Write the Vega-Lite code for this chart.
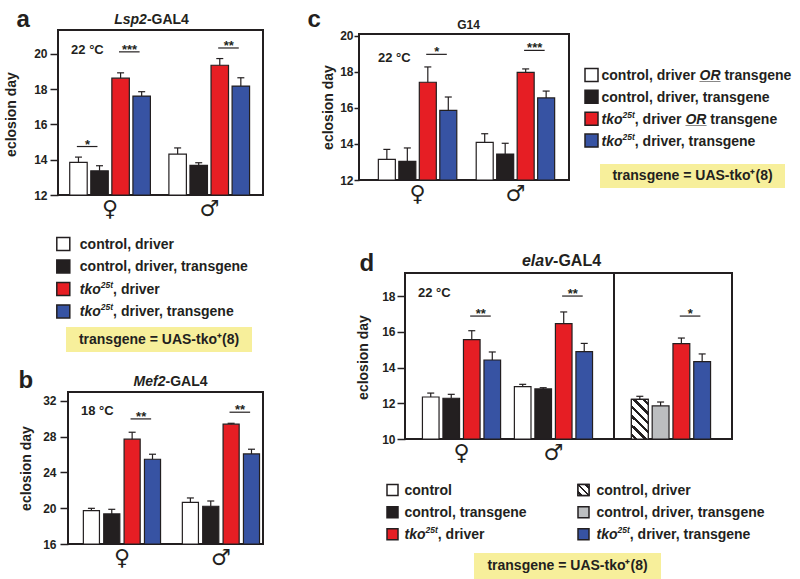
{
"$schema": "https://vega.github.io/schema/vega-lite/v6.json",
"padding": {"left": 2, "top": 5, "right": 4, "bottom": 0},
"config": {
  "font": "Liberation Sans",
  "view": {"stroke": null},
  "axis": {"grid": false, "domain": false, "labelColor": "#231f20", "titleColor": "#231f20", "tickColor": "#231f20", "labelFontWeight": "bold", "labelFont": "Liberation Sans", "titleFont": "Liberation Sans"},
  "text": {"color": "#231f20"}
},
"datasets": {
  "a_bars": [
    {"sex": "♀", "genotype": "control, driver", "day": 13.85, "upper": 14.15},
    {"sex": "♀", "genotype": "control, driver, transgene", "day": 13.37, "upper": 13.66},
    {"sex": "♀", "genotype": "tko25t, driver", "day": 18.63, "upper": 18.93},
    {"sex": "♀", "genotype": "tko25t, driver, transgene", "day": 17.61, "upper": 17.86},
    {"sex": "♂", "genotype": "control, driver", "day": 14.32, "upper": 14.67},
    {"sex": "♂", "genotype": "control, driver, transgene", "day": 13.68, "upper": 13.83},
    {"sex": "♂", "genotype": "tko25t, driver", "day": 19.36, "upper": 19.74},
    {"sex": "♂", "genotype": "tko25t, driver, transgene", "day": 18.18, "upper": 18.65}
  ],
  "a_sig": [
    {"sex": "♀", "genotype": "control, driver", "level": 14.75, "stars": "*"},
    {"sex": "♀", "genotype": "tko25t, driver", "level": 20.12, "stars": "***"},
    {"sex": "♂", "genotype": "tko25t, driver", "level": 20.34, "stars": "**"}
  ],
  "b_bars": [
    {"sex": "♀", "genotype": "control, driver", "day": 19.73, "upper": 19.99},
    {"sex": "♀", "genotype": "control, driver, transgene", "day": 19.36, "upper": 19.88},
    {"sex": "♀", "genotype": "tko25t, driver", "day": 27.72, "upper": 28.5},
    {"sex": "♀", "genotype": "tko25t, driver, transgene", "day": 25.48, "upper": 26.04},
    {"sex": "♂", "genotype": "control, driver", "day": 20.66, "upper": 21.15},
    {"sex": "♂", "genotype": "control, driver, transgene", "day": 20.22, "upper": 20.81},
    {"sex": "♂", "genotype": "tko25t, driver", "day": 29.4, "upper": 29.5},
    {"sex": "♂", "genotype": "tko25t, driver, transgene", "day": 26.07, "upper": 26.6}
  ],
  "b_sig": [
    {"sex": "♀", "genotype": "tko25t, driver", "level": 29.99, "stars": "**"},
    {"sex": "♂", "genotype": "tko25t, driver", "level": 30.74, "stars": "**"}
  ],
  "c_bars": [
    {"sex": "♀", "genotype": "control, driver OR transgene", "day": 13.15, "upper": 13.7},
    {"sex": "♀", "genotype": "control, driver, transgene", "day": 13.04, "upper": 13.78},
    {"sex": "♀", "genotype": "tko25t, driver OR transgene", "day": 17.43, "upper": 18.28},
    {"sex": "♀", "genotype": "tko25t, driver, transgene", "day": 15.87, "upper": 16.61},
    {"sex": "♂", "genotype": "control, driver OR transgene", "day": 14.09, "upper": 14.57},
    {"sex": "♂", "genotype": "control, driver, transgene", "day": 13.44, "upper": 14.04},
    {"sex": "♂", "genotype": "tko25t, driver OR transgene", "day": 17.98, "upper": 18.17},
    {"sex": "♂", "genotype": "tko25t, driver, transgene", "day": 16.56, "upper": 16.94}
  ],
  "c_sig": [
    {"sex": "♀", "genotype": "tko25t, driver OR transgene", "level": 18.98, "stars": "*"},
    {"sex": "♂", "genotype": "tko25t, driver OR transgene", "level": 19.2, "stars": "***"}
  ],
  "dl_bars": [
    {"sex": "♀", "genotype": "control", "day": 12.35, "upper": 12.57},
    {"sex": "♀", "genotype": "control, transgene", "day": 12.28, "upper": 12.5},
    {"sex": "♀", "genotype": "tko25t, driver", "day": 15.56, "upper": 16.06},
    {"sex": "♀", "genotype": "tko25t, driver, transgene", "day": 14.42, "upper": 14.87},
    {"sex": "♂", "genotype": "control", "day": 12.93, "upper": 13.06},
    {"sex": "♂", "genotype": "control, transgene", "day": 12.8, "upper": 12.87},
    {"sex": "♂", "genotype": "tko25t, driver", "day": 16.46, "upper": 17.11},
    {"sex": "♂", "genotype": "tko25t, driver, transgene", "day": 14.89, "upper": 15.35}
  ],
  "dl_sig": [
    {"sex": "♀", "genotype": "tko25t, driver", "level": 16.88, "stars": "**"},
    {"sex": "♂", "genotype": "tko25t, driver", "level": 18.0, "stars": "**"}
  ],
  "dr_bars": [
    {"sex": "♀", "genotype": "control, driver", "day": 12.22, "upper": 12.39},
    {"sex": "♀", "genotype": "control, driver, transgene", "day": 11.85, "upper": 12.07},
    {"sex": "♀", "genotype": "tko25t, driver", "day": 15.34, "upper": 15.65},
    {"sex": "♀", "genotype": "tko25t, driver, transgene", "day": 14.33, "upper": 14.76}
  ],
  "dr_sig": [
    {"sex": "♀", "genotype": "tko25t, driver", "level": 16.88, "stars": "*"}
  ],
  "legA": [
    {"genotype": "control, driver", "it": "", "sup": "", "p1": "control, driver"},
    {"genotype": "control, driver, transgene", "it": "", "sup": "", "p1": "control, driver, transgene"},
    {"genotype": "tko25t, driver", "it": "tko", "sup": "25t", "p1": ", driver"},
    {"genotype": "tko25t, driver, transgene", "it": "tko", "sup": "25t", "p1": ", driver, transgene"}
  ],
  "legC": [
    {"genotype": "control, driver OR transgene", "it": "", "sup": "", "p1": "control, driver", "em": "OR", "p2": "transgene"},
    {"genotype": "control, driver, transgene", "it": "", "sup": "", "p1": "control, driver, transgene", "em": "", "p2": ""},
    {"genotype": "tko25t, driver OR transgene", "it": "tko", "sup": "25t", "p1": ", driver", "em": "OR", "p2": "transgene"},
    {"genotype": "tko25t, driver, transgene", "it": "tko", "sup": "25t", "p1": ", driver, transgene", "em": "", "p2": ""}
  ],
  "legDL": [
    {"genotype": "control", "it": "", "sup": "", "p1": "control"},
    {"genotype": "control, transgene", "it": "", "sup": "", "p1": "control, transgene"},
    {"genotype": "tko25t, driver", "it": "tko", "sup": "25t", "p1": ", driver"}
  ],
  "legDR": [
    {"genotype": "control, driver", "it": "", "sup": "", "p1": "control, driver"},
    {"genotype": "control, driver, transgene", "it": "", "sup": "", "p1": "control, driver, transgene"},
    {"genotype": "tko25t, driver, transgene", "it": "tko", "sup": "25t", "p1": ", driver, transgene"}
  ]
},
"spacing": 41,
"resolve": {"scale": {"fill": "independent", "xOffset": "independent"}},
"hconcat": [
{
 "spacing": 0,
 "resolve": {"scale": {"fill": "independent", "xOffset": "independent"}},
 "vconcat": [
  {"width": 1, "height": 1, "data": {"values": []}, "mark": {"type": "point", "size": 0}},
  {"spacing": 0, "resolve": {"scale": {"fill": "independent", "xOffset": "independent"}},
   "hconcat": [
    {"width": 1, "height": 1, "data": {"values": []}, "mark": {"type": "point", "size": 0}},
    {
     "width": 205, "height": 165,
     "view": {"stroke": "#231f20", "strokeWidth": 2},
     "resolve": {"axis": {"x": "independent", "y": "independent"}},
     "layer": [
      {"data": {"name": "a_bars"},
       "mark": {"type": "bar", "stroke": "#231f20", "strokeWidth": 1.2, "opacity": 1},
       "encoding": {
        "x": {"field": "sex", "type": "nominal", "scale": {"domain": ["♀", "♂"], "paddingInner": 0.178, "paddingOuter": 0.1225, "align": 0.465},
              "axis": {"orient": "bottom", "ticks": false, "tickSize": 0, "labelAngle": 0, "labelFont": "DejaVu Sans", "labelFontSize": 22, "labelPadding": 3, "title": "a", "titleFontSize": 24, "titleFontWeight": "bold", "titleAngle": 0, "titleAlign": "left", "titleBaseline": "alphabetic", "titleX": -42, "titleY": -169}},
        "xOffset": {"field": "genotype", "type": "nominal", "scale": {"domain": ["control, driver", "control, driver, transgene", "tko25t, driver", "tko25t, driver, transgene"], "paddingInner": 0.17, "paddingOuter": 0.02}},
        "y": {"field": "day", "type": "quantitative", "scale": {"domain": [12, 21.36], "zero": false, "nice": false, "clamp": true},
              "axis": {"orient": "left", "values": [12, 14, 16, 18, 20], "tickSize": 8, "tickWidth": 1.5, "labelPadding": 3, "labelFontSize": 12, "title": "eclosion day", "titleFontSize": 14, "titleFontWeight": "bold", "titleAngle": -90, "titleAlign": "center", "titleBaseline": "middle", "titleX": -47, "titleY": 84}},
        "fill": {"field": "genotype", "type": "nominal", "scale": {"domain": ["control, driver", "control, driver, transgene", "tko25t, driver", "tko25t, driver, transgene"], "range": ["#ffffff", "#231f20", "#e61e24", "#3753a3"]}, "legend": null}
       }},
      {"data": {"name": "a_bars"},
       "mark": {"type": "rule", "stroke": "#231f20", "strokeWidth": 1.2},
       "encoding": {
        "x": {"field": "sex", "type": "nominal", "axis": {"orient": "top", "labels": false, "ticks": false, "domain": false, "title": "-GAL4", "titleFontSize": 14, "titleFontWeight": "bold", "titleAngle": 0, "titleAlign": "left", "titleBaseline": "alphabetic", "titleX": 88.4, "titleY": -7}},
        "xOffset": {"field": "genotype", "type": "nominal"},
        "y": {"field": "day", "type": "quantitative", "axis": {"orient": "right", "labels": false, "ticks": false, "domain": false, "title": "Lsp2", "titleFontSize": 14, "titleFontWeight": "bold", "titleFontStyle": "italic", "titleAngle": 0, "titleAlign": "right", "titleBaseline": "alphabetic", "titleX": -116.6, "titleY": -7}},
        "y2": {"field": "upper"}
       }},
      {"data": {"name": "a_bars"},
       "mark": {"type": "tick", "orient": "horizontal", "size": 7, "thickness": 1.2, "color": "#231f20", "opacity": 1},
       "encoding": {"x": {"field": "sex", "type": "nominal", "axis": null}, "xOffset": {"field": "genotype", "type": "nominal"}, "y": {"field": "upper", "type": "quantitative", "axis": null}}},
      {"data": {"name": "a_sig"},
       "mark": {"type": "point", "shape": "M-0.08,0L0.95,0", "size": 1600, "filled": false, "stroke": "#231f20", "strokeWidth": 1.2, "opacity": 1},
       "encoding": {"x": {"field": "sex", "type": "nominal", "axis": null}, "xOffset": {"field": "genotype", "type": "nominal"}, "y": {"field": "level", "type": "quantitative", "axis": null}}},
      {"data": {"name": "a_sig"},
       "mark": {"type": "text", "dx": 9, "dy": 2, "baseline": "alphabetic", "fontSize": 13, "fontWeight": "bold"},
       "encoding": {"x": {"field": "sex", "type": "nominal", "axis": null}, "xOffset": {"field": "genotype", "type": "nominal"}, "y": {"field": "level", "type": "quantitative", "axis": null}, "text": {"field": "stars"}}},
      {"data": {"values": [{"temp": "22 °C"}]},
       "mark": {"type": "text", "align": "left", "baseline": "alphabetic", "dx": -39, "fontSize": 13, "fontWeight": "bold"},
       "encoding": {"x": {"datum": "♀", "type": "nominal", "axis": null}, "y": {"datum": 20.0, "type": "quantitative", "axis": null}, "text": {"field": "temp"}}}
     ]
    }
   ]},
  {"width": 1, "height": 13.05, "data": {"values": []}, "mark": {"type": "point", "size": 0}},
  {"width": 122.6, "height": 67.4,
   "data": {"name": "legA"},
   "encoding": {"y": {"field": "genotype", "type": "nominal", "scale": {"type": "point", "domain": ["control, driver", "control, driver, transgene", "tko25t, driver", "tko25t, driver, transgene"], "padding": 0}, "axis": null}},
   "layer": [
    {"mark": {"type": "point", "shape": "square", "size": 169, "filled": true, "stroke": "#231f20", "strokeWidth": 1.5, "opacity": 1},
     "encoding": {"fill": {"field": "genotype", "type": "nominal", "scale": {"domain": ["control, driver", "control, driver, transgene", "tko25t, driver", "tko25t, driver, transgene"], "range": ["#ffffff", "#231f20", "#e61e24", "#3753a3"]}, "legend": null}}},
    {"transform": [{"filter": "datum.it != ''"}], "mark": {"type": "text", "align": "left", "baseline": "alphabetic", "dx": 16.5, "dy": 5, "fontSize": 14, "fontWeight": "bold", "fontStyle": "italic"}, "encoding": {"text": {"field": "it"}}},
    {"transform": [{"filter": "datum.sup != ''"}], "mark": {"type": "text", "align": "left", "baseline": "alphabetic", "dx": 37.5, "dy": -1, "fontSize": 8.5, "fontWeight": "bold", "fontStyle": "italic"}, "encoding": {"text": {"field": "sup"}}},
    {"transform": [{"filter": "datum.it == ''"}], "mark": {"type": "text", "align": "left", "baseline": "alphabetic", "dx": 16.5, "dy": 5, "fontSize": 14, "fontWeight": "bold"}, "encoding": {"text": {"field": "p1"}}},
    {"transform": [{"filter": "datum.it != ''"}], "mark": {"type": "text", "align": "left", "baseline": "alphabetic", "dx": 49.8, "dy": 5, "fontSize": 14, "fontWeight": "bold"}, "encoding": {"text": {"field": "p1"}}}
   ]},
  {"width": 1, "height": 6, "data": {"values": []}, "mark": {"type": "point", "size": 0}},
  {"spacing": 0, "resolve": {"scale": {"fill": "independent", "xOffset": "independent"}},
   "hconcat": [
    {"width": 64, "height": 1, "data": {"values": []}, "mark": {"type": "point", "size": 0}},
    {"width": 186, "height": 25, "view": {"fill": "#f7ef9b", "stroke": null},
     "data": {"values": [{"t": "transgene = UAS-tko⁺(8)"}]},
     "mark": {"type": "text", "fontSize": 14, "fontWeight": "bold", "baseline": "middle"},
     "encoding": {"text": {"field": "t"}}}
   ]},
  {"width": 1, "height": 14.3, "data": {"values": []}, "mark": {"type": "point", "size": 0}},
  {"spacing": 0, "resolve": {"scale": {"fill": "independent", "xOffset": "independent"}},
   "hconcat": [
    {"width": 15, "height": 1, "data": {"values": []}, "mark": {"type": "point", "size": 0}},
    {
     "width": 195, "height": 152,
     "view": {"stroke": "#231f20", "strokeWidth": 2},
     "resolve": {"axis": {"x": "independent", "y": "independent"}},
     "layer": [
      {"data": {"name": "b_bars"},
       "mark": {"type": "bar", "stroke": "#231f20", "strokeWidth": 1.2, "opacity": 1},
       "encoding": {
        "x": {"field": "sex", "type": "nominal", "scale": {"domain": ["♀", "♂"], "paddingInner": 0.212, "paddingOuter": 0.091, "align": 0.83},
              "axis": {"orient": "bottom", "ticks": false, "tickSize": 0, "labelAngle": 0, "labelFont": "DejaVu Sans", "labelFontSize": 22, "labelPadding": 3, "title": "b", "titleFontSize": 24, "titleFontWeight": "bold", "titleAngle": 0, "titleAlign": "left", "titleBaseline": "alphabetic", "titleX": -50, "titleY": -157}},
        "xOffset": {"field": "genotype", "type": "nominal", "scale": {"domain": ["control, driver", "control, driver, transgene", "tko25t, driver", "tko25t, driver, transgene"], "paddingInner": 0.21, "paddingOuter": 0.02}},
        "y": {"field": "day", "type": "quantitative", "scale": {"domain": [16, 33], "zero": false, "nice": false, "clamp": true},
              "axis": {"orient": "left", "values": [16, 20, 24, 28, 32], "tickSize": 8, "tickWidth": 1.5, "labelPadding": 4, "labelFontSize": 12, "title": "eclosion day", "titleFontSize": 14, "titleFontWeight": "bold", "titleAngle": -90, "titleAlign": "center", "titleBaseline": "middle", "titleX": -42, "titleY": 76}},
        "fill": {"field": "genotype", "type": "nominal", "scale": {"domain": ["control, driver", "control, driver, transgene", "tko25t, driver", "tko25t, driver, transgene"], "range": ["#ffffff", "#231f20", "#e61e24", "#3753a3"]}, "legend": null}
       }},
      {"data": {"name": "b_bars"},
       "mark": {"type": "rule", "stroke": "#231f20", "strokeWidth": 1.2},
       "encoding": {
        "x": {"field": "sex", "type": "nominal", "axis": {"orient": "top", "labels": false, "ticks": false, "domain": false, "title": "-GAL4", "titleFontSize": 14, "titleFontWeight": "bold", "titleAngle": 0, "titleAlign": "left", "titleBaseline": "alphabetic", "titleX": 97, "titleY": -7}},
        "xOffset": {"field": "genotype", "type": "nominal"},
        "y": {"field": "day", "type": "quantitative", "axis": {"orient": "right", "labels": false, "ticks": false, "domain": false, "title": "Mef2", "titleFontSize": 14, "titleFontWeight": "bold", "titleFontStyle": "italic", "titleAngle": 0, "titleAlign": "right", "titleBaseline": "alphabetic", "titleX": -98, "titleY": -7}},
        "y2": {"field": "upper"}
       }},
      {"data": {"name": "b_bars"},
       "mark": {"type": "tick", "orient": "horizontal", "size": 7, "thickness": 1.2, "color": "#231f20", "opacity": 1},
       "encoding": {"x": {"field": "sex", "type": "nominal", "axis": null}, "xOffset": {"field": "genotype", "type": "nominal"}, "y": {"field": "upper", "type": "quantitative", "axis": null}}},
      {"data": {"name": "b_sig"},
       "mark": {"type": "point", "shape": "M-0.08,0L0.95,0", "size": 1600, "filled": false, "stroke": "#231f20", "strokeWidth": 1.2, "opacity": 1},
       "encoding": {"x": {"field": "sex", "type": "nominal", "axis": null}, "xOffset": {"field": "genotype", "type": "nominal"}, "y": {"field": "level", "type": "quantitative", "axis": null}}},
      {"data": {"name": "b_sig"},
       "mark": {"type": "text", "dx": 9, "dy": 2, "baseline": "alphabetic", "fontSize": 13, "fontWeight": "bold"},
       "encoding": {"x": {"field": "sex", "type": "nominal", "axis": null}, "xOffset": {"field": "genotype", "type": "nominal"}, "y": {"field": "level", "type": "quantitative", "axis": null}, "text": {"field": "stars"}}},
      {"data": {"values": [{"temp": "18 °C"}]},
       "mark": {"type": "text", "align": "left", "baseline": "alphabetic", "dx": -41, "fontSize": 13, "fontWeight": "bold"},
       "encoding": {"x": {"datum": "♀", "type": "nominal", "axis": null}, "y": {"datum": 30.45, "type": "quantitative", "axis": null}, "text": {"field": "temp"}}}
     ]
    }
   ]}
 ]
},
{
 "spacing": 0,
 "resolve": {"scale": {"fill": "independent", "xOffset": "independent"}},
 "vconcat": [
  {"width": 1, "height": 1, "data": {"values": []}, "mark": {"type": "point", "size": 0}},
  {"spacing": 0, "resolve": {"scale": {"fill": "independent", "xOffset": "independent"}},
   "hconcat": [
    {"width": 1, "height": 1, "data": {"values": []}, "mark": {"type": "point", "size": 0}},
    {
     "width": 210, "height": 146,
     "view": {"stroke": "#231f20", "strokeWidth": 2},
     "resolve": {"axis": {"x": "independent", "y": "independent"}},
     "layer": [
      {"data": {"name": "c_bars"},
       "mark": {"type": "bar", "stroke": "#231f20", "strokeWidth": 1.2, "opacity": 1},
       "encoding": {
        "x": {"field": "sex", "type": "nominal", "scale": {"domain": ["♀", "♂"], "paddingInner": 0.19, "paddingOuter": 0.168, "align": 0.576},
              "axis": {"orient": "bottom", "ticks": false, "tickSize": 0, "labelAngle": 0, "labelFont": "DejaVu Sans", "labelFontSize": 22, "labelPadding": 3, "title": "c", "titleFontSize": 24, "titleFontWeight": "bold", "titleAngle": 0, "titleAlign": "left", "titleBaseline": "alphabetic", "titleX": -52, "titleY": -154}},
        "xOffset": {"field": "genotype", "type": "nominal", "scale": {"domain": ["control, driver OR transgene", "control, driver, transgene", "tko25t, driver OR transgene", "tko25t, driver, transgene"], "paddingInner": 0.17, "paddingOuter": 0.02}},
        "y": {"field": "day", "type": "quantitative", "scale": {"domain": [12, 20.11], "zero": false, "nice": false, "clamp": true},
              "axis": {"orient": "left", "values": [12, 14, 16, 18, 20], "tickSize": 5, "tickWidth": 1.5, "labelPadding": 1, "labelFontSize": 12, "title": "eclosion day", "titleFontSize": 14, "titleFontWeight": "bold", "titleAngle": -90, "titleAlign": "center", "titleBaseline": "middle", "titleX": -31, "titleY": 73}},
        "fill": {"field": "genotype", "type": "nominal", "scale": {"domain": ["control, driver OR transgene", "control, driver, transgene", "tko25t, driver OR transgene", "tko25t, driver, transgene"], "range": ["#ffffff", "#231f20", "#e61e24", "#3753a3"]}, "legend": null}
       }},
      {"data": {"name": "c_bars"},
       "mark": {"type": "rule", "stroke": "#231f20", "strokeWidth": 1.2},
       "encoding": {
        "x": {"field": "sex", "type": "nominal", "axis": {"orient": "top", "labels": false, "ticks": false, "domain": false, "title": "G14", "titleFontSize": 12, "titleFontWeight": "bold", "titleAngle": 0, "titleAlign": "center", "titleBaseline": "alphabetic", "titleX": 109, "titleY": -6}},
        "xOffset": {"field": "genotype", "type": "nominal"},
        "y": {"field": "day", "type": "quantitative", "axis": null},
        "y2": {"field": "upper"}
       }},
      {"data": {"name": "c_bars"},
       "mark": {"type": "tick", "orient": "horizontal", "size": 7, "thickness": 1.2, "color": "#231f20", "opacity": 1},
       "encoding": {"x": {"field": "sex", "type": "nominal", "axis": null}, "xOffset": {"field": "genotype", "type": "nominal"}, "y": {"field": "upper", "type": "quantitative", "axis": null}}},
      {"data": {"name": "c_sig"},
       "mark": {"type": "point", "shape": "M-0.08,0L0.95,0", "size": 1600, "filled": false, "stroke": "#231f20", "strokeWidth": 1.2, "opacity": 1},
       "encoding": {"x": {"field": "sex", "type": "nominal", "axis": null}, "xOffset": {"field": "genotype", "type": "nominal"}, "y": {"field": "level", "type": "quantitative", "axis": null}}},
      {"data": {"name": "c_sig"},
       "mark": {"type": "text", "dx": 9, "dy": 2, "baseline": "alphabetic", "fontSize": 13, "fontWeight": "bold"},
       "encoding": {"x": {"field": "sex", "type": "nominal", "axis": null}, "xOffset": {"field": "genotype", "type": "nominal"}, "y": {"field": "level", "type": "quantitative", "axis": null}, "text": {"field": "stars"}}},
      {"data": {"values": [{"temp": "22 °C"}]},
       "mark": {"type": "text", "align": "left", "baseline": "alphabetic", "dx": -39.6, "fontSize": 13, "fontWeight": "bold"},
       "encoding": {"x": {"datum": "♀", "type": "nominal", "axis": null}, "y": {"datum": 18.53, "type": "quantitative", "axis": null}, "text": {"field": "temp"}}}
     ]
    },
    {"width": 11.45, "height": 1, "data": {"values": []}, "mark": {"type": "point", "size": 0}},
    {"spacing": 0, "resolve": {"scale": {"fill": "independent", "xOffset": "independent"}},
     "vconcat": [
      {"width": 1, "height": 30.45, "data": {"values": []}, "mark": {"type": "point", "size": 0}},
      {"width": 1, "height": 65.6,
       "data": {"name": "legC"},
       "encoding": {"y": {"field": "genotype", "type": "nominal", "scale": {"type": "point", "domain": ["control, driver OR transgene", "control, driver, transgene", "tko25t, driver OR transgene", "tko25t, driver, transgene"], "padding": 0}, "axis": null}},
       "layer": [
        {"mark": {"type": "point", "shape": "square", "size": 169, "filled": true, "stroke": "#231f20", "strokeWidth": 1.5, "opacity": 1},
         "encoding": {"fill": {"field": "genotype", "type": "nominal", "scale": {"domain": ["control, driver OR transgene", "control, driver, transgene", "tko25t, driver OR transgene", "tko25t, driver, transgene"], "range": ["#ffffff", "#231f20", "#e61e24", "#3753a3"]}, "legend": null}}},
        {"transform": [{"filter": "datum.it != ''"}], "mark": {"type": "text", "align": "left", "baseline": "alphabetic", "dx": 10, "dy": 5, "fontSize": 14, "fontWeight": "bold", "fontStyle": "italic"}, "encoding": {"text": {"field": "it"}}},
        {"transform": [{"filter": "datum.sup != ''"}], "mark": {"type": "text", "align": "left", "baseline": "alphabetic", "dx": 31, "dy": -1, "fontSize": 8.5, "fontWeight": "bold", "fontStyle": "italic"}, "encoding": {"text": {"field": "sup"}}},
        {"transform": [{"filter": "datum.it == ''"}], "mark": {"type": "text", "align": "left", "baseline": "alphabetic", "dx": 10, "dy": 5, "fontSize": 14, "fontWeight": "bold"}, "encoding": {"text": {"field": "p1"}}},
        {"transform": [{"filter": "datum.it != ''"}], "mark": {"type": "text", "align": "left", "baseline": "alphabetic", "dx": 43.3, "dy": 5, "fontSize": 14, "fontWeight": "bold"}, "encoding": {"text": {"field": "p1"}}},
        {"transform": [{"filter": "datum.em != '' && datum.it == ''"}], "mark": {"type": "text", "align": "left", "baseline": "alphabetic", "dx": 108, "dy": 5, "fontSize": 14, "fontWeight": "bold", "fontStyle": "italic"}, "encoding": {"text": {"field": "em"}}},
        {"transform": [{"filter": "datum.em != '' && datum.it != ''"}], "mark": {"type": "text", "align": "left", "baseline": "alphabetic", "dx": 93.9, "dy": 5, "fontSize": 14, "fontWeight": "bold", "fontStyle": "italic"}, "encoding": {"text": {"field": "em"}}},
        {"transform": [{"filter": "datum.em != '' && datum.it == ''"}], "mark": {"type": "text", "align": "left", "baseline": "alphabetic", "dx": 108, "dy": 5, "fontSize": 12.6, "fontWeight": "bold"}, "encoding": {"text": {"value": "___"}}},
        {"transform": [{"filter": "datum.em != '' && datum.it != ''"}], "mark": {"type": "text", "align": "left", "baseline": "alphabetic", "dx": 93.9, "dy": 5, "fontSize": 12.6, "fontWeight": "bold"}, "encoding": {"text": {"value": "___"}}},
        {"transform": [{"filter": "datum.em != '' && datum.it == ''"}], "mark": {"type": "text", "align": "left", "baseline": "alphabetic", "dx": 132.9, "dy": 5, "fontSize": 14, "fontWeight": "bold"}, "encoding": {"text": {"field": "p2"}}},
        {"transform": [{"filter": "datum.em != '' && datum.it != ''"}], "mark": {"type": "text", "align": "left", "baseline": "alphabetic", "dx": 118.8, "dy": 5, "fontSize": 14, "fontWeight": "bold"}, "encoding": {"text": {"field": "p2"}}}
       ]},
      {"width": 1, "height": 12.7, "data": {"values": []}, "mark": {"type": "point", "size": 0}},
      {"spacing": 0, "resolve": {"scale": {"fill": "independent", "xOffset": "independent"}},
       "hconcat": [
        {"width": 8.8, "height": 1, "data": {"values": []}, "mark": {"type": "point", "size": 0}},
        {"width": 185, "height": 24, "view": {"fill": "#f7ef9b", "stroke": null},
         "data": {"values": [{"t": "transgene = UAS-tko⁺(8)"}]},
         "mark": {"type": "text", "fontSize": 14, "fontWeight": "bold", "baseline": "middle"},
         "encoding": {"text": {"field": "t"}}}
       ]}
     ]}
   ]},
  {"width": 1, "height": 45, "data": {"values": []}, "mark": {"type": "point", "size": 0}},
  {"spacing": 0, "resolve": {"scale": {"fill": "independent", "xOffset": "independent"}},
   "hconcat": [
    {"width": 50, "height": 1, "data": {"values": []}, "mark": {"type": "point", "size": 0}},
    {"spacing": 0, "bounds": "flush", "resolve": {"scale": {"fill": "independent", "xOffset": "independent"}},
     "hconcat": [
      {
       "width": 209, "height": 166,
       "view": {"stroke": "#231f20", "strokeWidth": 2},
       "resolve": {"axis": {"x": "independent", "y": "independent"}},
       "layer": [
        {"data": {"name": "dl_bars"},
         "mark": {"type": "bar", "stroke": "#231f20", "strokeWidth": 1.2, "opacity": 1},
         "encoding": {
          "x": {"field": "sex", "type": "nominal", "scale": {"domain": ["♀", "♂"], "paddingInner": 0.141, "paddingOuter": 0.207, "align": 0.447},
                "axis": {"orient": "bottom", "ticks": false, "tickSize": 0, "labelAngle": 0, "labelFont": "DejaVu Sans", "labelFontSize": 22, "labelPadding": 3, "title": "d", "titleFontSize": 24, "titleFontWeight": "bold", "titleAngle": 0, "titleAlign": "left", "titleBaseline": "alphabetic", "titleX": -46, "titleY": -169}},
          "xOffset": {"field": "genotype", "type": "nominal", "scale": {"domain": ["control", "control, transgene", "tko25t, driver", "tko25t, driver, transgene"], "paddingInner": 0.19, "paddingOuter": 0.02}},
          "y": {"field": "day", "type": "quantitative", "scale": {"domain": [10, 19.29], "zero": false, "nice": false, "clamp": true},
                "axis": {"orient": "left", "values": [10, 12, 14, 16, 18], "tickSize": 8, "tickWidth": 1.5, "labelPadding": 2, "labelFontSize": 12, "title": "eclosion day", "titleFontSize": 14, "titleFontWeight": "bold", "titleAngle": -90, "titleAlign": "center", "titleBaseline": "middle", "titleX": -41.5, "titleY": 84}},
          "fill": {"field": "genotype", "type": "nominal", "scale": {"domain": ["control", "control, transgene", "tko25t, driver", "tko25t, driver, transgene"], "range": ["#ffffff", "#231f20", "#e61e24", "#3753a3"]}, "legend": null}
         }},
        {"data": {"name": "dl_bars"},
         "mark": {"type": "rule", "stroke": "#231f20", "strokeWidth": 1.2},
         "encoding": {
          "x": {"field": "sex", "type": "nominal", "axis": {"orient": "top", "labels": false, "ticks": false, "domain": false, "title": "-GAL4", "titleFontSize": 16, "titleFontWeight": "bold", "titleAngle": 0, "titleAlign": "left", "titleBaseline": "alphabetic", "titleX": 147.6, "titleY": -7.5}},
          "xOffset": {"field": "genotype", "type": "nominal"},
          "y": {"field": "day", "type": "quantitative", "axis": {"orient": "right", "labels": false, "ticks": false, "domain": false, "title": "elav", "titleFontSize": 16, "titleFontWeight": "bold", "titleFontStyle": "italic", "titleAngle": 0, "titleAlign": "right", "titleBaseline": "alphabetic", "titleX": -61.4, "titleY": -7.5}},
          "y2": {"field": "upper"}
         }},
        {"data": {"name": "dl_bars"},
         "mark": {"type": "tick", "orient": "horizontal", "size": 7, "thickness": 1.2, "color": "#231f20", "opacity": 1},
         "encoding": {"x": {"field": "sex", "type": "nominal", "axis": null}, "xOffset": {"field": "genotype", "type": "nominal"}, "y": {"field": "upper", "type": "quantitative", "axis": null}}},
        {"data": {"name": "dl_sig"},
         "mark": {"type": "point", "shape": "M-0.08,0L0.95,0", "size": 1600, "filled": false, "stroke": "#231f20", "strokeWidth": 1.2, "opacity": 1},
         "encoding": {"x": {"field": "sex", "type": "nominal", "axis": null}, "xOffset": {"field": "genotype", "type": "nominal"}, "y": {"field": "level", "type": "quantitative", "axis": null}}},
        {"data": {"name": "dl_sig"},
         "mark": {"type": "text", "dx": 9, "dy": 2, "baseline": "alphabetic", "fontSize": 13, "fontWeight": "bold"},
         "encoding": {"x": {"field": "sex", "type": "nominal", "axis": null}, "xOffset": {"field": "genotype", "type": "nominal"}, "y": {"field": "level", "type": "quantitative", "axis": null}, "text": {"field": "stars"}}},
        {"data": {"values": [{"temp": "22 °C"}]},
         "mark": {"type": "text", "align": "left", "baseline": "alphabetic", "dx": -43.5, "fontSize": 13, "fontWeight": "bold"},
         "encoding": {"x": {"datum": "♀", "type": "nominal", "axis": null}, "y": {"datum": 17.94, "type": "quantitative", "axis": null}, "text": {"field": "temp"}}}
       ]
      },
      {
       "width": 118, "height": 166,
       "view": {"stroke": "#231f20", "strokeWidth": 2},
       "layer": [
        {"data": {"name": "dr_bars"},
         "mark": {"type": "bar", "stroke": "#231f20", "strokeWidth": 1.2, "opacity": 1},
         "encoding": {
          "x": {"field": "sex", "type": "nominal", "scale": {"domain": ["♀"], "paddingInner": 0, "paddingOuter": 0.2375, "align": 0.447},
                "axis": {"orient": "bottom", "ticks": false, "tickSize": 0, "labelAngle": 0, "labelFont": "DejaVu Sans", "labelFontSize": 22, "labelPadding": 3, "title": null}},
          "xOffset": {"field": "genotype", "type": "nominal", "scale": {"domain": ["control, driver", "control, driver, transgene", "tko25t, driver", "tko25t, driver, transgene"], "paddingInner": 0.19, "paddingOuter": 0.02}},
          "y": {"field": "day", "type": "quantitative", "scale": {"domain": [10, 19.29], "zero": false, "nice": false, "clamp": true}, "axis": null},
          "fill": {"field": "genotype", "type": "nominal", "scale": {"domain": ["control, driver", "control, driver, transgene", "tko25t, driver", "tko25t, driver, transgene"], "range": ["#ffffff", "#bcbec0", "#e61e24", "#3753a3"]}, "legend": null}
         }},
        {"data": {"name": "dr_bars"},
         "transform": [{"filter": "datum.genotype == 'control, driver'"}],
         "mark": {"type": "bar", "stroke": "#231f20", "strokeWidth": 1.2, "opacity": 1,
                  "fill": {"gradient": "linear", "x1": 0, "y1": 1, "x2": 0.5045, "y2": -0.207, "stops": [
                    {"offset": 0, "color": "#ffffff"},
                    {"offset": 0.05, "color": "#ffffff"}, {"offset": 0.05, "color": "#231f20"}, {"offset": 0.11, "color": "#231f20"}, {"offset": 0.11, "color": "#ffffff"},
                    {"offset": 0.2167, "color": "#ffffff"}, {"offset": 0.2167, "color": "#231f20"}, {"offset": 0.2767, "color": "#231f20"}, {"offset": 0.2767, "color": "#ffffff"},
                    {"offset": 0.3833, "color": "#ffffff"}, {"offset": 0.3833, "color": "#231f20"}, {"offset": 0.4433, "color": "#231f20"}, {"offset": 0.4433, "color": "#ffffff"},
                    {"offset": 0.55, "color": "#ffffff"}, {"offset": 0.55, "color": "#231f20"}, {"offset": 0.61, "color": "#231f20"}, {"offset": 0.61, "color": "#ffffff"},
                    {"offset": 0.7167, "color": "#ffffff"}, {"offset": 0.7167, "color": "#231f20"}, {"offset": 0.7767, "color": "#231f20"}, {"offset": 0.7767, "color": "#ffffff"},
                    {"offset": 0.8833, "color": "#ffffff"}, {"offset": 0.8833, "color": "#231f20"}, {"offset": 0.9433, "color": "#231f20"}, {"offset": 0.9433, "color": "#ffffff"},
                    {"offset": 1, "color": "#ffffff"}]}},
         "encoding": {"x": {"field": "sex", "type": "nominal", "axis": null}, "xOffset": {"field": "genotype", "type": "nominal"}, "y": {"field": "day", "type": "quantitative", "axis": null}}},
        {"data": {"name": "dr_bars"},
         "mark": {"type": "rule", "stroke": "#231f20", "strokeWidth": 1.2},
         "encoding": {"x": {"field": "sex", "type": "nominal", "axis": null}, "xOffset": {"field": "genotype", "type": "nominal"}, "y": {"field": "day", "type": "quantitative", "axis": null}, "y2": {"field": "upper"}}},
        {"data": {"name": "dr_bars"},
         "mark": {"type": "tick", "orient": "horizontal", "size": 7, "thickness": 1.2, "color": "#231f20", "opacity": 1},
         "encoding": {"x": {"field": "sex", "type": "nominal", "axis": null}, "xOffset": {"field": "genotype", "type": "nominal"}, "y": {"field": "upper", "type": "quantitative", "axis": null}}},
        {"data": {"name": "dr_sig"},
         "mark": {"type": "point", "shape": "M-0.08,0L0.95,0", "size": 1600, "filled": false, "stroke": "#231f20", "strokeWidth": 1.2, "opacity": 1},
         "encoding": {"x": {"field": "sex", "type": "nominal", "axis": null}, "xOffset": {"field": "genotype", "type": "nominal"}, "y": {"field": "level", "type": "quantitative", "axis": null}}},
        {"data": {"name": "dr_sig"},
         "mark": {"type": "text", "dx": 9, "dy": 2, "baseline": "alphabetic", "fontSize": 13, "fontWeight": "bold"},
         "encoding": {"x": {"field": "sex", "type": "nominal", "axis": null}, "xOffset": {"field": "genotype", "type": "nominal"}, "y": {"field": "level", "type": "quantitative", "axis": null}, "text": {"field": "stars"}}}
       ]
      }
     ]}
   ]},
  {"width": 1, "height": 16.45, "data": {"values": []}, "mark": {"type": "point", "size": 0}},
  {"spacing": 0, "resolve": {"scale": {"fill": "independent", "xOffset": "independent"}},
   "hconcat": [
    {"width": 79, "height": 1, "data": {"values": []}, "mark": {"type": "point", "size": 0}},
    {"width": 1, "height": 44.3,
     "data": {"name": "legDL"},
     "encoding": {"y": {"field": "genotype", "type": "nominal", "scale": {"type": "point", "domain": ["control", "control, transgene", "tko25t, driver"], "padding": 0}, "axis": null}},
     "layer": [
      {"mark": {"type": "point", "shape": "square", "size": 121, "filled": true, "stroke": "#231f20", "strokeWidth": 1.5, "opacity": 1},
       "encoding": {"fill": {"field": "genotype", "type": "nominal", "scale": {"domain": ["control", "control, transgene", "tko25t, driver"], "range": ["#ffffff", "#231f20", "#e61e24"]}, "legend": null}}},
      {"transform": [{"filter": "datum.it != ''"}], "mark": {"type": "text", "align": "left", "baseline": "alphabetic", "dx": 12, "dy": 5, "fontSize": 14, "fontWeight": "bold", "fontStyle": "italic"}, "encoding": {"text": {"field": "it"}}},
      {"transform": [{"filter": "datum.sup != ''"}], "mark": {"type": "text", "align": "left", "baseline": "alphabetic", "dx": 33, "dy": -1, "fontSize": 8.5, "fontWeight": "bold", "fontStyle": "italic"}, "encoding": {"text": {"field": "sup"}}},
      {"transform": [{"filter": "datum.it == ''"}], "mark": {"type": "text", "align": "left", "baseline": "alphabetic", "dx": 12, "dy": 5, "fontSize": 14, "fontWeight": "bold"}, "encoding": {"text": {"field": "p1"}}},
      {"transform": [{"filter": "datum.it != ''"}], "mark": {"type": "text", "align": "left", "baseline": "alphabetic", "dx": 45.3, "dy": 5, "fontSize": 14, "fontWeight": "bold"}, "encoding": {"text": {"field": "p1"}}}
     ]},
    {"width": 47.25, "height": 1, "data": {"values": []}, "mark": {"type": "point", "size": 0}},
    {"width": 1, "height": 44.3,
     "data": {"name": "legDR"},
     "encoding": {"y": {"field": "genotype", "type": "nominal", "scale": {"type": "point", "domain": ["control, driver", "control, driver, transgene", "tko25t, driver, transgene"], "padding": 0}, "axis": null}},
     "layer": [
      {"mark": {"type": "point", "shape": "square", "size": 121, "filled": true, "stroke": "#231f20", "strokeWidth": 1.5, "opacity": 1},
       "encoding": {"fill": {"field": "genotype", "type": "nominal", "scale": {"domain": ["control, driver", "control, driver, transgene", "tko25t, driver, transgene"], "range": ["#ffffff", "#bcbec0", "#3753a3"]}, "legend": null}}},
      {"transform": [{"filter": "datum.genotype == 'control, driver'"}],
       "mark": {"type": "point", "shape": "square", "size": 121, "stroke": "#231f20", "strokeWidth": 1.5, "opacity": 1, "filled": true,
                "fill": {"gradient": "linear", "x1": 0, "y1": 1, "x2": 1, "y2": 0, "stops": [
                  {"offset": 0, "color": "#ffffff"},
                  {"offset": 0.1, "color": "#ffffff"}, {"offset": 0.1, "color": "#231f20"}, {"offset": 0.22, "color": "#231f20"}, {"offset": 0.22, "color": "#ffffff"},
                  {"offset": 0.433, "color": "#ffffff"}, {"offset": 0.433, "color": "#231f20"}, {"offset": 0.553, "color": "#231f20"}, {"offset": 0.553, "color": "#ffffff"},
                  {"offset": 0.767, "color": "#ffffff"}, {"offset": 0.767, "color": "#231f20"}, {"offset": 0.887, "color": "#231f20"}, {"offset": 0.887, "color": "#ffffff"},
                  {"offset": 1, "color": "#ffffff"}]}}},
      {"transform": [{"filter": "datum.it != ''"}], "mark": {"type": "text", "align": "left", "baseline": "alphabetic", "dx": 13, "dy": 5, "fontSize": 14, "fontWeight": "bold", "fontStyle": "italic"}, "encoding": {"text": {"field": "it"}}},
      {"transform": [{"filter": "datum.sup != ''"}], "mark": {"type": "text", "align": "left", "baseline": "alphabetic", "dx": 34, "dy": -1, "fontSize": 8.5, "fontWeight": "bold", "fontStyle": "italic"}, "encoding": {"text": {"field": "sup"}}},
      {"transform": [{"filter": "datum.it == ''"}], "mark": {"type": "text", "align": "left", "baseline": "alphabetic", "dx": 13, "dy": 5, "fontSize": 14, "fontWeight": "bold"}, "encoding": {"text": {"field": "p1"}}},
      {"transform": [{"filter": "datum.it != ''"}], "mark": {"type": "text", "align": "left", "baseline": "alphabetic", "dx": 46.3, "dy": 5, "fontSize": 14, "fontWeight": "bold"}, "encoding": {"text": {"field": "p1"}}}
     ]}
   ]},
  {"width": 1, "height": 10, "data": {"values": []}, "mark": {"type": "point", "size": 0}},
  {"spacing": 0, "resolve": {"scale": {"fill": "independent", "xOffset": "independent"}},
   "hconcat": [
    {"width": 169, "height": 1, "data": {"values": []}, "mark": {"type": "point", "size": 0}},
    {"width": 187, "height": 26, "view": {"fill": "#f7ef9b", "stroke": null},
     "data": {"values": [{"t": "transgene = UAS-tko⁺(8)"}]},
     "mark": {"type": "text", "fontSize": 14, "fontWeight": "bold", "baseline": "middle"},
     "encoding": {"text": {"field": "t"}}}
   ]}
 ]
}
]
}
